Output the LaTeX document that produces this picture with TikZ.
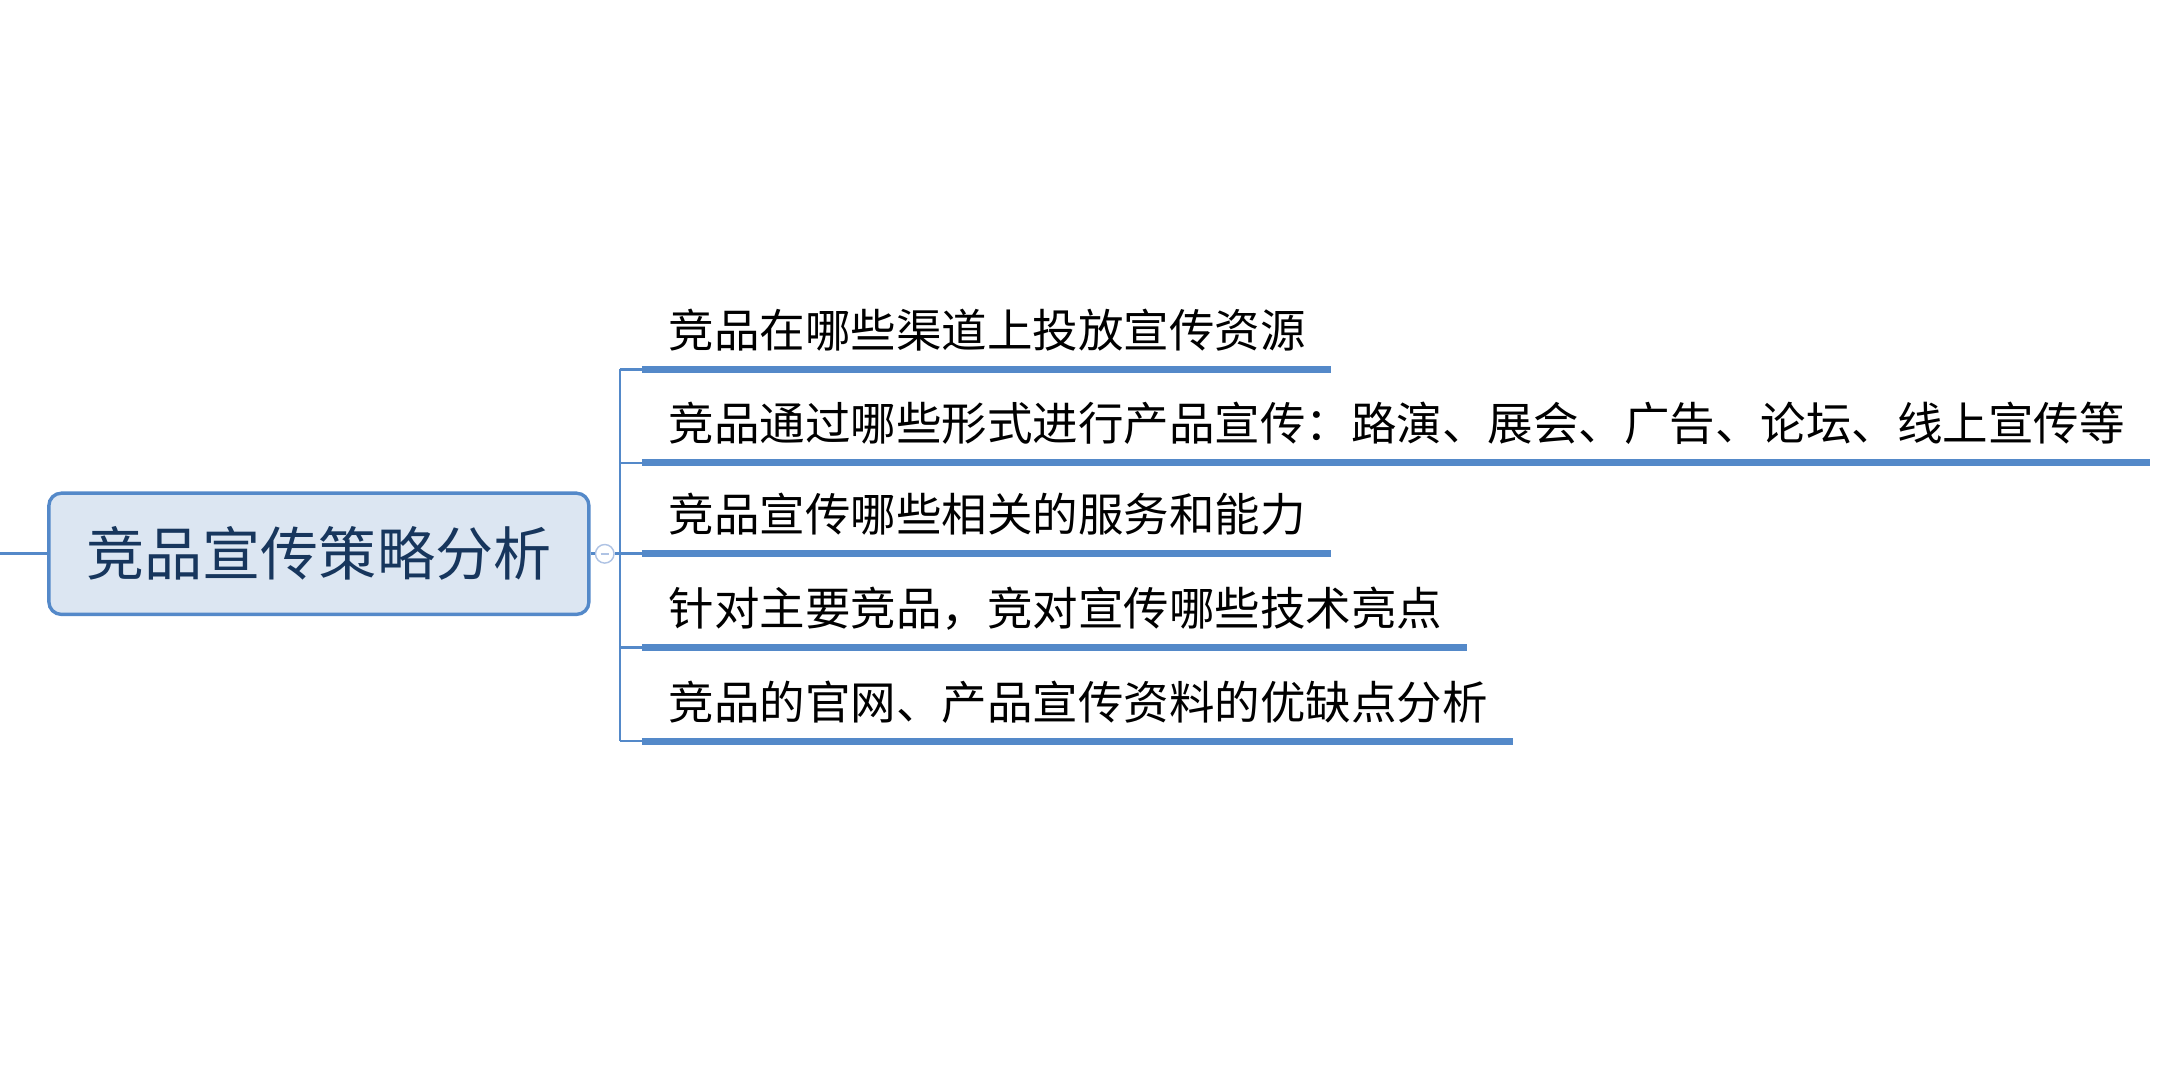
\documentclass[tikz,border=0pt]{standalone}
\usepackage{fontspec}
\newfontfamily\cjk{Noto Sans CJK SC}
\usetikzlibrary{positioning}
\definecolor{mapblue}{RGB}{84,137,201}
\definecolor{rootfill}{RGB}{220,230,242}
\definecolor{roottext}{RGB}{23,54,93}
\definecolor{foldline}{RGB}{175,195,228}

\begin{document}
\begin{tikzpicture}[x=0.2mm, y=-0.2mm,
        root/.style={rectangle, rounded corners=1.8mm, draw=mapblue, line width=1.4pt, fill=rootfill, minimum width=78.4mm, minimum height=17.6mm, text=roottext, font=\cjk\fontsize{24}{28}\selectfont},
        topic/.style={anchor=base west, inner sep=0pt, font=\cjk\fontsize{18.8}{22}\selectfont},
        fold/.style={circle, draw=foldline, fill=white, line width=0.6pt, minimum size=2.7mm, inner sep=0pt},
        branch/.style={draw=mapblue, line width=1.1pt},
        uline/.style={draw=mapblue, line width=2.8pt}
    ]
        \useasboundingbox (0,0) rectangle (1568,784);

        % Central topic
        \node[root] (strategy) at (231.5,402) {竞品宣传策略分析};
        \coordinate (stub) at (0,402);
        \draw[branch] (stub) -- (strategy);

        % Fold button
        \node[fold] (fold) at (439,402) {};
        \draw[foldline, line width=0.6pt] ([xshift=-0.6mm]fold.center) -- ([xshift=0.6mm]fold.center);
        \draw[branch] (strategy.east) -- (fold.west);

        % Spine joints and underline ends
        \coordinate (j1) at (450,268);
        \coordinate (j2) at (450,336);
        \coordinate (j3) at (450,402);
        \coordinate (j4) at (450,470);
        \coordinate (j5) at (450,538);
        \coordinate (s1) at (466,268);
        \coordinate (s2) at (466,336);
        \coordinate (s3) at (466,402);
        \coordinate (s4) at (466,470);
        \coordinate (s5) at (466,538);
        \coordinate (e1) at (966,268);
        \coordinate (e2) at (1561,336);
        \coordinate (e3) at (966,402);
        \coordinate (e4) at (1065,470);
        \coordinate (e5) at (1098,538);

        % Subtopics
        \node[topic] (c1) at (485,252) {竞品在哪些渠道上投放宣传资源};
        \node[topic] (c2) at (485,320) {竞品通过哪些形式进行产品宣传：路演、展会、广告、论坛、线上宣传等};
        \node[topic] (c3) at (485,386) {竞品宣传哪些相关的服务和能力};
        \node[topic] (c4) at (485,454) {针对主要竞品，竞对宣传哪些技术亮点};
        \node[topic] (c5) at (485,522) {竞品的官网、产品宣传资料的优缺点分析};

        % Connectors
        \draw[branch] (fold.east) -- (j3);
        \draw[branch] (j1) -- (j5);
        \draw[branch] (j1) -- (s1);
        \draw[branch] (j2) -- (s2);
        \draw[branch] (j3) -- (s3);
        \draw[branch] (j4) -- (s4);
        \draw[branch] (j5) -- (s5);

        % Underlines
        \draw[uline] (s1) -- (e1);
        \draw[uline] (s2) -- (e2);
        \draw[uline] (s3) -- (e3);
        \draw[uline] (s4) -- (e4);
        \draw[uline] (s5) -- (e5);
    \end{tikzpicture}
\end{document}
